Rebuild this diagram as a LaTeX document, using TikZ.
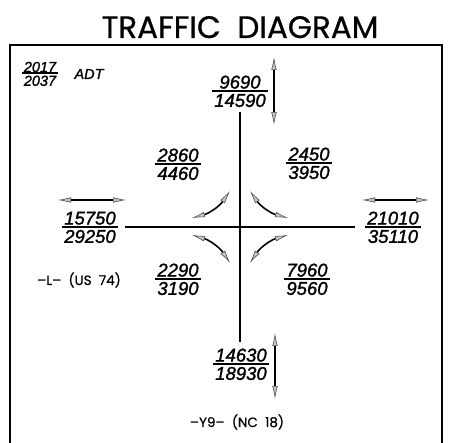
\documentclass[tikz,border=0pt]{standalone}
\usepackage{fontspec}
\usetikzlibrary{arrows.meta}
\newfontfamily\titlefont{Poppins}[FakeBold=0.6]
\newfontfamily\countfont{Liberation Sans}[ItalicFeatures={FakeBold=1.4}]
\setlength{\arrayrulewidth}{1.6pt}
\newcommand{\adtfrac}[2]{\begin{tabular}{@{\hspace{2pt}}c@{\hspace{2pt}}}#1\\[-4pt]\hline\rule{0pt}{0.82em}#2\end{tabular}}

\begin{document}
\begin{tikzpicture}
  [x=1pt,y=-1pt,>={Latex[length=13pt,width=5.5pt,line width=0.6pt,color=black!70,fill=gray!45]}]
      \tikzstyle{road_style} = [draw=black, line width=2.6pt]
      \tikzstyle{flow_style} = [draw=black, line width=1.8pt, <->]
      \tikzstyle{turn_style} = [draw=black, line width=1.6pt, <->]
      \tikzstyle{count_style} = [font=\countfont\itshape\fontsize{18.5}{18.5}\selectfont, inner sep=0pt]
      \tikzstyle{key_style} = [font=\countfont\itshape\fontsize{14.5}{14.5}\selectfont, inner sep=0pt]
      \tikzstyle{route_style} = [font=\titlefont\fontsize{13.5}{13.5}\selectfont, inner sep=0pt, anchor=base]
  \useasboundingbox (0,0) rectangle (459,443);
  \node[font=\titlefont\fontsize{31}{31}\selectfont, inner sep=0pt, anchor=base] (title) at (240,38) {TRAFFIC\ \ DIAGRAM};
  \draw[line width=2.2pt] (10,443) -- (10,45) -- (442,45) -- (442,443);
  % roads
  \coordinate (n_end) at (240,112);
  \coordinate (s_end) at (240,342);
  \coordinate (w_end) at (125,227);
  \coordinate (e_end) at (355,227);
  \draw[road_style] (n_end) -- (s_end);
  \draw[road_style] (w_end) -- (e_end);
  % through movements
  \coordinate (n_a) at (274,57);
  \coordinate (n_b) at (274,125);
  \coordinate (s_a) at (275,333);
  \coordinate (s_b) at (275,399);
  \coordinate (w_a) at (58,200);
  \coordinate (w_b) at (126,200);
  \coordinate (e_a) at (362,200);
  \coordinate (e_b) at (429,200);
  \draw[flow_style] (n_a) -- (n_b);
  \draw[flow_style] (s_a) -- (s_b);
  \draw[flow_style] (w_a) -- (w_b);
  \draw[flow_style] (e_a) -- (e_b);
  % turning movements
  \coordinate (nw_a) at (230,191);
  \coordinate (nw_b) at (192,218);
  \coordinate (ne_a) at (250,191);
  \coordinate (ne_b) at (288,218);
  \coordinate (sw_a) at (192,235);
  \coordinate (sw_b) at (230,263);
  \coordinate (se_a) at (250,263);
  \coordinate (se_b) at (288,235);
  \draw[turn_style] (nw_a) to[bend left=20] (nw_b);
  \draw[turn_style] (ne_a) to[bend right=20] (ne_b);
  \draw[turn_style] (sw_a) to[bend left=20] (sw_b);
  \draw[turn_style] (se_a) to[bend left=20] (se_b);
  % volumes
  \node[key_style] (key) at (40,76) {\adtfrac{2017}{2037}};
  \node[key_style, anchor=base] (adt) at (89,79) {ADT};
  \node[count_style] (vol_n) at (240,94) {\adtfrac{9690}{14590}};
  \node[count_style] (vol_nw) at (178,167) {\adtfrac{2860}{4460}};
  \node[count_style] (vol_ne) at (309,166) {\adtfrac{2450}{3950}};
  \node[count_style] (vol_w) at (90,230) {\adtfrac{15750}{29250}};
  \node[count_style] (vol_e) at (393,230) {\adtfrac{21010}{35110}};
  \node[count_style] (vol_sw) at (178,282) {\adtfrac{2290}{3190}};
  \node[count_style] (vol_se) at (307,282) {\adtfrac{7960}{9560}};
  \node[count_style] (vol_s) at (241,367) {\adtfrac{14630}{18930}};
  \node[route_style] (route_l) at (79,285) {–L–\ \ (US\ \ 74)};
  \node[route_style] (route_y) at (237,427) {–Y9–\ \ (NC\ \ 18)};
\end{tikzpicture}
\end{document}
